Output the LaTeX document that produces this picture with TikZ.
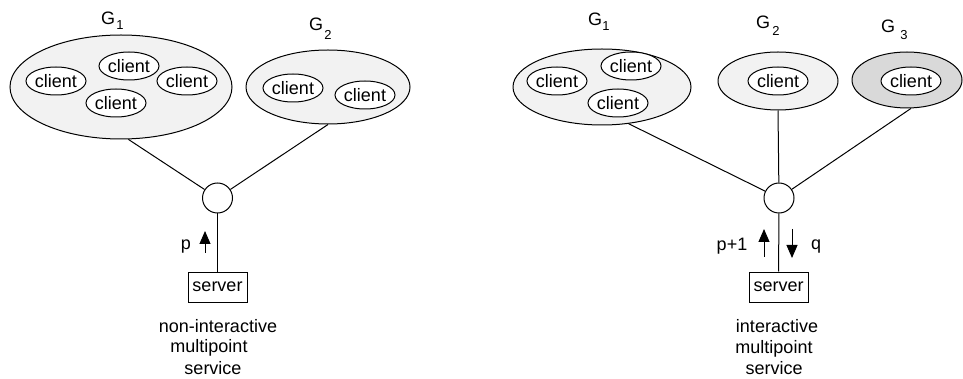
\documentclass[tikz,border=0pt]{standalone}
\usepackage{fontspec}
\setmainfont{Liberation Sans}
\usetikzlibrary{shapes.geometric,arrows.meta}
\definecolor{grpfill}{HTML}{F2F2F2}
\definecolor{darkfill}{HTML}{D9D9D9}
\tikzset{
  base/.style={line width=1pt},
  group/.style={base, draw, ellipse, fill=grpfill, inner sep=0pt},
  clientnode/.style={base, draw, ellipse, fill=white, minimum width=60pt, minimum height=28pt, inner sep=0pt, font=\fontsize{18}{20}\selectfont},
  hub/.style={base, draw, circle, fill=white, minimum size=30pt, inner sep=0pt},
  serverbox/.style={base, draw, rectangle, fill=white, minimum width=59pt, minimum height=30pt, inner sep=0pt, font=\fontsize{18}{20}\selectfont},
  lbl/.style={inner sep=0pt, font=\fontsize{18}{20}\selectfont},
  btxt/.style={lbl, anchor=base},
  sub/.style={inner sep=0pt, font=\fontsize{13}{15}\selectfont},
  wire/.style={base},
  flow/.style={line width=1pt, -{Triangle[length=13pt,width=11pt]}},
}
\begin{document}
\begin{tikzpicture}[x=1pt,y=-1pt]
\path[use as bounding box] (0,0) rectangle (963,379);

% ---------- left: non-interactive ----------
\node[group, minimum width=222pt, minimum height=104pt] (lg1) at (121,87) {};
\node[group, minimum width=164pt, minimum height=74pt] (lg2) at (328,87) {};
\node[clientnode] (lc1) at (56,81) {client};
\node[clientnode] (lc2) at (129,66) {client};
\node[clientnode] (lc3) at (187,81) {client};
\node[clientnode] (lc4) at (116,103) {client};
\node[clientnode] (lc5) at (293,88) {client};
\node[clientnode] (lc6) at (365,95) {client};
\node[lbl] (lg1G) at (108,18) {G};
\node[sub] (lg1s) at (120,25) {1};
\node[lbl] (lg2G) at (316,24) {G};
\node[sub] (lg2s) at (328,35) {2};
\node[hub] (lh) at (217.5,198) {};
\node[serverbox] (ls) at (217.5,287) {server};
\draw[wire] (lg1.-82) -- (lh);
\draw[wire] (lg2.south) -- (lh);
\draw[wire] (lh) -- (ls);
\coordinate (lpa) at (205,253);
\coordinate (lpb) at (205,231);
\draw[flow] (lpa) -- (lpb);
\node[btxt] (lp) at (186,250) {p};
\node[btxt] (lt1) at (218,332) {non-interactive};
\node[btxt] (lt2) at (209,352) {multipoint};
\node[btxt] (lt3) at (213,374) {service};

% ---------- right: interactive ----------
\node[group, minimum width=178pt, minimum height=76pt] (rg1) at (602,87) {};
\node[group, minimum width=120pt, minimum height=58pt] (rg2) at (778,81) {};
\node[group, fill=darkfill, minimum width=110pt, minimum height=56pt] (rg3) at (907,80) {};
\node[clientnode] (rc1) at (557,81) {client};
\node[clientnode] (rc2) at (631,66) {client};
\node[clientnode] (rc3) at (618,103) {client};
\node[clientnode] (rc4) at (778,81) {client};
\node[clientnode] (rc5) at (911,81) {client};
\node[lbl] (rg1G) at (595,19) {G};
\node[sub] (rg1s) at (606,26) {1};
\node[lbl] (rg2G) at (763,22) {G};
\node[sub] (rg2s) at (776,31) {2};
\node[lbl] (rg3G) at (888,26) {G};
\node[sub] (rg3s) at (904,35) {3};
\node[hub] (rh) at (779,198) {};
\node[serverbox] (rs) at (778.5,287) {server};
\draw[wire] (rg1.-54) -- (rh);
\draw[wire] (rg2.south) -- (rh);
\draw[wire] (rg3.-82) -- (rh);
\draw[wire] (rh) -- (rs);
\coordinate (rpa) at (764,257);
\coordinate (rpb) at (764,229);
\coordinate (rqa) at (792,229);
\coordinate (rqb) at (792,258);
\draw[flow] (rpa) -- (rpb);
\draw[flow] (rqa) -- (rqb);
\node[btxt] (rp) at (732,251) {p+1};
\node[btxt] (rq) at (816,250) {q};
\node[btxt] (rt1) at (777,332) {interactive};
\node[btxt] (rt2) at (774,353) {multipoint};
\node[btxt] (rt3) at (774,374) {service};
\end{tikzpicture}
\end{document}
